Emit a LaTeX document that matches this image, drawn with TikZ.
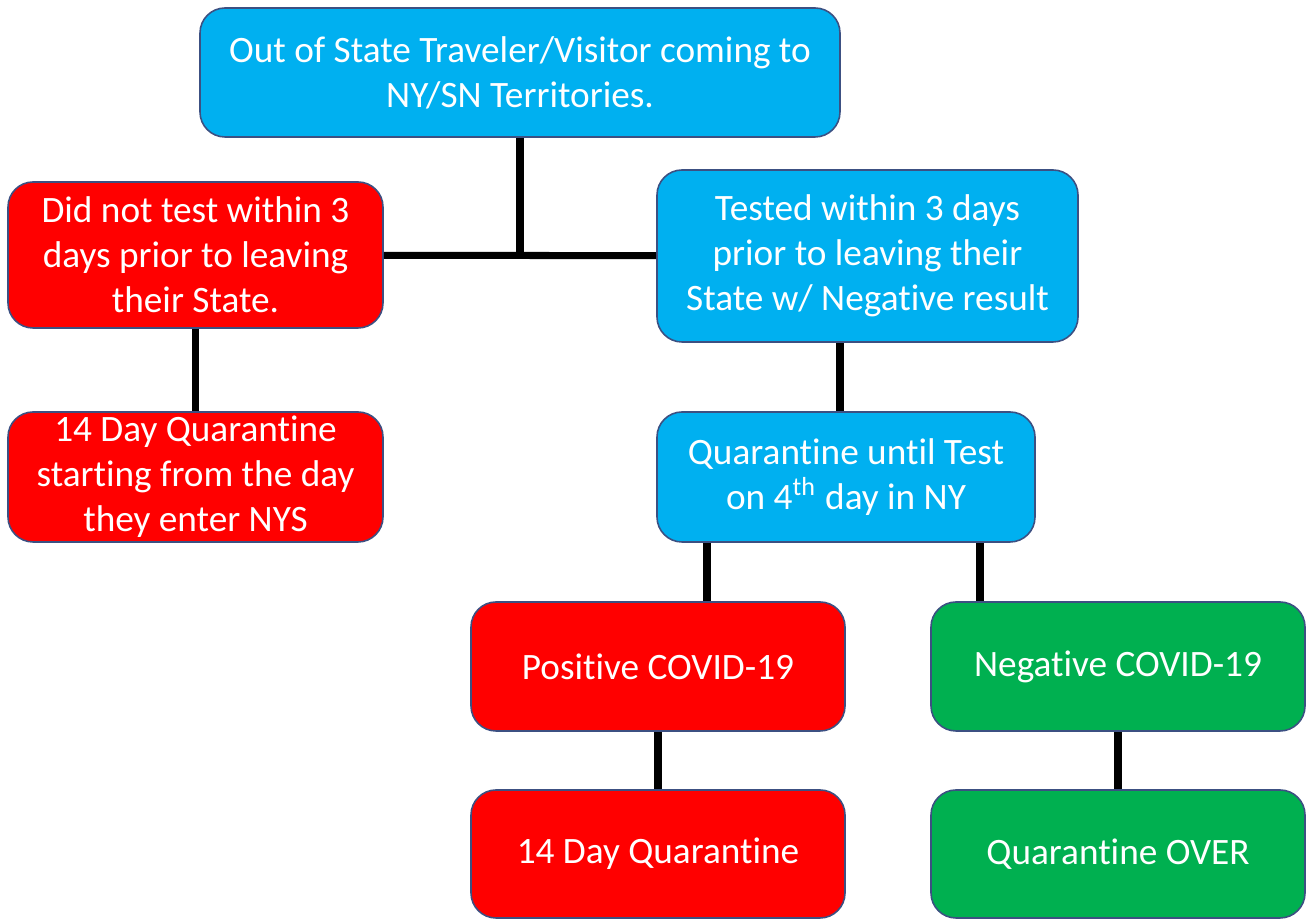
\documentclass[tikz,border=0pt]{standalone}
\usepackage{fontspec}
\setmainfont{Carlito}[Ligatures=NoCommon]
\usetikzlibrary{calc}
\definecolor{skyblue}{RGB}{0,176,240}
\definecolor{okgreen}{RGB}{0,176,80}
\definecolor{edgeblue}{RGB}{60,80,130}
\begin{document}
\begin{tikzpicture}[auto=left,
    box/.style={draw=edgeblue, line width=0.45pt, rounded corners=0.25cm, text=white, align=center,
      anchor=center, inner sep=0pt, font=\fontsize{10.6}{12.8}\selectfont},
    link/.style={line width=2pt}]
    \useasboundingbox (0,0) rectangle (13.07,-9.19);
    \node (A) [box, fill=skyblue, minimum width=6.40cm, minimum height=1.29cm] at (5.20, -0.725) {Out of State Traveler/Visitor coming to\\NY/SN Territories.};
    \node (B) [box, fill=red, minimum width=3.75cm, minimum height=1.46cm] at (1.955, -2.55) {Did not test within 3\\days prior to leaving\\their State.};
    \node (C) [box, fill=skyblue, minimum width=4.21cm, minimum height=1.72cm] at (8.675, -2.56) {Tested within 3 days\\prior to leaving their\\State w/ Negative result};
    \node (D) [box, fill=red, minimum width=3.75cm, minimum height=1.30cm] at (1.955, -4.77) {14 Day Quarantine\\starting from the day\\they enter NYS};
    \node (E) [box, fill=skyblue, minimum width=3.78cm, minimum height=1.30cm] at (8.46, -4.77) {Quarantine until Test\\on 4\textsuperscript{th} day in NY};
    \node (F) [box, fill=red, minimum width=3.74cm, minimum height=1.29cm] at (6.58, -6.665) {Positive COVID-19};
    \node (G) [box, fill=okgreen, minimum width=3.74cm, minimum height=1.29cm] at (11.18, -6.665) {Negative COVID-19};
    \node (H) [box, fill=red, minimum width=3.74cm, minimum height=1.28cm] at (6.58, -8.54) {14 Day Quarantine};
    \node (I) [box, fill=okgreen, minimum width=3.74cm, minimum height=1.28cm] at (11.18, -8.54) {Quarantine OVER};
    \draw[link] (A) -- (A |- B);
    \draw[link] (B) -- (C);
    \draw[link] (B) -- (D);
    \draw[link] ([xshift=-0.06cm]E.north) -- ([xshift=-0.06cm]E.north |- C.south);
    \draw[link] ([xshift=-1.39cm]E.south) -- ([xshift=-1.39cm]E.south |- F.north);
    \draw[link] ([xshift=1.34cm]E.south) -- ([xshift=1.34cm]E.south |- G.north);
    \draw[link] (F) -- (H);
    \draw[link] (G) -- (I);
\end{tikzpicture}
\end{document}
